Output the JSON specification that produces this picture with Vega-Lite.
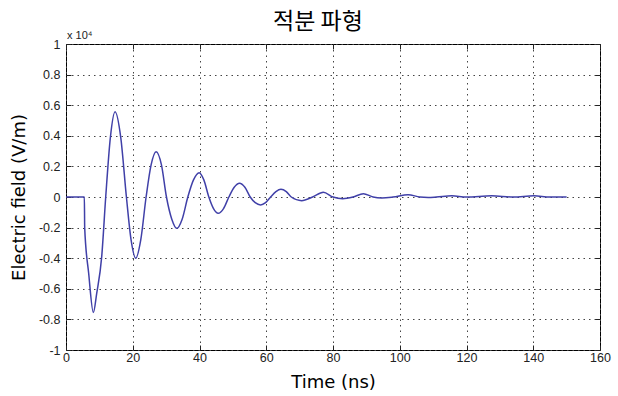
{
  "$schema": "https://vega.github.io/schema/vega-lite/v6.json",
  "width": 534,
  "height": 306,
  "autosize": {"type": "none"},
  "padding": {"left": 66, "top": 44, "right": 18, "bottom": 46},
  "background": "white",
  "title": {"text": "적분 파형", "font": "Noto Sans CJK KR", "fontSize": 23, "fontWeight": "normal", "color": "#000", "anchor": "middle", "offset": -4, "dx": -15},
  "config": {
    "view": {"stroke": "#000", "strokeWidth": 1},
    "axis": {"labelFont": "Liberation Sans", "labelFontSize": 12.5, "labelColor": "#222", "titleFont": "DejaVu Sans", "titleFontSize": 18, "titleFontWeight": "normal", "titleColor": "#000", "domain": false, "tickColor": "#222", "gridColor": "#444", "gridDash": [1.5, 4], "gridOpacity": 1}
  },
  "datasets": {
    "wave": [
      {"t": 0, "E": 0}, {"t": 5.5, "E": 0}, {"t": 5.6, "E": -0.2}, {"t": 6.8, "E": -0.5}, {"t": 8.2, "E": -0.755},
      {"t": 9.2, "E": -0.63}, {"t": 10.7, "E": -0.39}, {"t": 11.9, "E": 0},
      {"t": 13.3, "E": 0.39}, {"t": 14.7, "E": 0.557}, {"t": 16.4, "E": 0.39}, {"t": 18.1, "E": 0},
      {"t": 19.5, "E": -0.28}, {"t": 20.9, "E": -0.4}, {"t": 22.4, "E": -0.28}, {"t": 24.0, "E": 0},
      {"t": 25.5, "E": 0.21}, {"t": 27.0, "E": 0.296}, {"t": 28.6, "E": 0.21}, {"t": 30.1, "E": 0},
      {"t": 31.7, "E": -0.145}, {"t": 33.2, "E": -0.205}, {"t": 34.8, "E": -0.145}, {"t": 36.5, "E": 0},
      {"t": 38.2, "E": 0.112}, {"t": 39.9, "E": 0.159}, {"t": 41.3, "E": 0.112}, {"t": 42.8, "E": 0},
      {"t": 44.2, "E": -0.076}, {"t": 45.6, "E": -0.107}, {"t": 47.2, "E": -0.076}, {"t": 48.8, "E": 0},
      {"t": 50.4, "E": 0.064}, {"t": 52.0, "E": 0.09}, {"t": 53.6, "E": 0.064}, {"t": 55.2, "E": 0},
      {"t": 56.7, "E": -0.037}, {"t": 58.3, "E": -0.052}, {"t": 59.8, "E": -0.037}, {"t": 61.3, "E": 0},
      {"t": 62.9, "E": 0.035}, {"t": 64.4, "E": 0.05}, {"t": 66.0, "E": 0.035}, {"t": 67.5, "E": 0},
      {"t": 70.6, "E": -0.024}, {"t": 73.9, "E": 0},
      {"t": 77.1, "E": 0.031}, {"t": 80.0, "E": 0},
      {"t": 82.9, "E": -0.011}, {"t": 86.0, "E": 0},
      {"t": 89.1, "E": 0.022}, {"t": 92.0, "E": 0},
      {"t": 94.6, "E": -0.006}, {"t": 98.0, "E": 0},
      {"t": 102.5, "E": 0.015}, {"t": 106.0, "E": 0}, {"t": 108.5, "E": -0.003}, {"t": 111.0, "E": 0},
      {"t": 115.6, "E": 0.008}, {"t": 120.0, "E": 0}, {"t": 127.5, "E": 0.008}, {"t": 134.0, "E": 0},
      {"t": 140.2, "E": 0.008}, {"t": 145.0, "E": 0}, {"t": 150.0, "E": 0}
    ]
  },
  "data": {"name": "wave"},
  "layer": [
    {
      "mark": {"type": "line", "color": "#4040a8", "strokeWidth": 1.5, "interpolate": "monotone", "clip": true},
      "encoding": {
        "x": {"field": "t", "type": "quantitative", "scale": {"domain": [0, 160], "nice": false, "zero": false},
              "axis": {"title": "Time (ns)", "values": [0, 20, 40, 60, 80, 100, 120, 140, 160], "grid": true, "tickSize": -5, "labelPadding": 6, "titlePadding": 10, "labelFlush": false}},
        "y": {"field": "E", "type": "quantitative", "scale": {"domain": [-1, 1], "nice": false, "zero": false},
              "axis": {"title": "Electric field (V/m)", "values": [-1, -0.8, -0.6, -0.4, -0.2, 0, 0.2, 0.4, 0.6, 0.8, 1], "grid": true, "tickSize": -5, "labelPadding": 11, "titlePadding": 10, "labelFlush": false,
                       "labelExpr": "datum.value < 0 ? '-' + format(-datum.value, '~g') : format(datum.value, '~g')"}}
      }
    },
    {
      "mark": {"type": "point", "opacity": 0},
      "encoding": {
        "x": {"field": "t", "type": "quantitative", "axis": {"orient": "top", "title": null, "labels": false, "grid": false, "tickSize": -5, "values": [0, 20, 40, 60, 80, 100, 120, 140, 160]}},
        "y": {"field": "E", "type": "quantitative", "axis": {"orient": "right", "title": null, "labels": false, "grid": false, "tickSize": -5, "values": [-1, -0.8, -0.6, -0.4, -0.2, 0, 0.2, 0.4, 0.6, 0.8, 1]}}
      }
    },
    {
      "data": {"values": [{"t": 0, "E": 1, "label": "x 10⁴"}]},
      "mark": {"type": "text", "align": "left", "baseline": "alphabetic", "dx": 1, "dy": -5, "font": "Liberation Sans", "fontSize": 11, "color": "#222"},
      "encoding": {
        "x": {"field": "t", "type": "quantitative", "axis": null},
        "y": {"field": "E", "type": "quantitative", "axis": null},
        "text": {"field": "label"}
      }
    }
  ],
  "resolve": {"axis": {"x": "independent", "y": "independent"}}
}
